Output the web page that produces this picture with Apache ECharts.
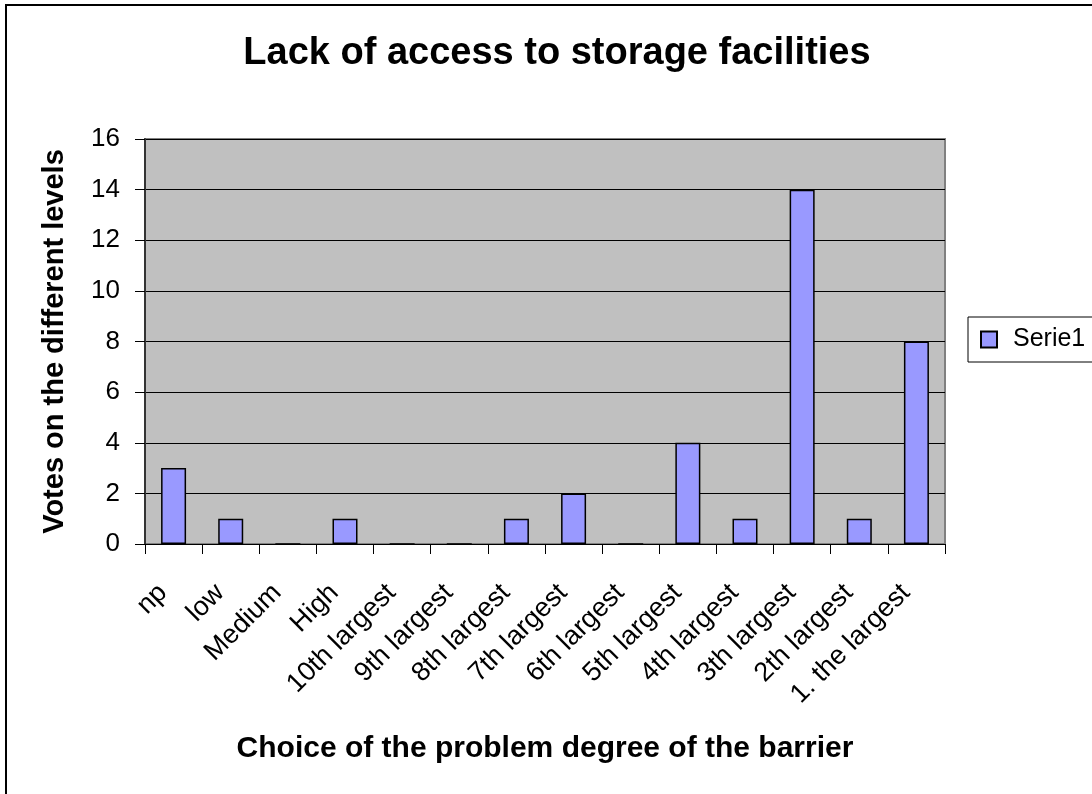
<!DOCTYPE html>
<html>
<head>
<meta charset="utf-8">
<script src="https://cdn.jsdelivr.net/npm/echarts@6/dist/echarts.min.js"></script>
<style>html,body{margin:0;padding:0;background:#fff;}#c{width:1092px;height:794px;}</style>
</head>
<body>
<div id="c"></div>
<script>
var categories = ['np','low','Medium','High','10th largest','9th largest','8th largest','7th largest','6th largest','5th largest','4th largest','3th largest','2th largest','1. the largest'];
var serie1 = [3,1,0,1,0,0,1,2,0,4,1,14,1,8];
var yTicks = {min:0, max:16, interval:2};

var chart = echarts.init(document.getElementById('c'), null, {renderer:'canvas'});
var F = 'Arial, "Liberation Sans", sans-serif';
chart.setOption({
  animation: false,
  backgroundColor: '#fff',
  title: {
    text: 'Lack of access to storage facilities',
    left: 552, top: 30, textAlign: 'center',
    textStyle: {fontFamily: F, fontSize: 38, fontWeight: 'bold', color: '#000'}
  },
  graphic: [{
    type: 'rect', shape: {x: 6, y: 5, width: 1100, height: 810},
    style: {fill: 'none', stroke: '#000', lineWidth: 2}, silent: true
  }],
  legend: {
    left: 968, top: 317, orient: 'vertical',
    itemWidth: 16, itemHeight: 16, itemGap: 5,
    padding: [10, 30, 10, 12],
    borderColor: '#000', borderWidth: 1, backgroundColor: '#fff',
    icon: 'rect',
    textStyle: {fontFamily: F, fontSize: 25, color: '#000', padding: [0, 0, 0, 11]}
  },
  grid: {
    left: 145, right: 147, top: 139, bottom: 250,
    show: true, backgroundColor: '#C0C0C0', borderColor: '#808080', borderWidth: 2
  },
  xAxis: {
    type: 'category', data: categories,
    name: 'Choice of the problem degree of the barrier',
    nameLocation: 'middle', nameGap: 190,
    nameTextStyle: {fontFamily: F, fontSize: 30, fontWeight: 'bold', color: '#000'},
    axisLine: {lineStyle: {color: '#000', width: 1}},
    axisTick: {show: true, interval: 0, length: 10, alignWithLabel: false, lineStyle: {color: '#000'}},
    axisLabel: {interval: 0, rotate: 45, margin: 34, padding: [0, 15, 0, 0], fontFamily: F, fontSize: 27, color: '#000'}
  },
  yAxis: {
    type: 'value', min: yTicks.min, max: yTicks.max, interval: yTicks.interval,
    name: 'Votes on the different levels',
    nameLocation: 'middle', nameGap: 76, nameRotate: 90,
    nameTextStyle: {fontFamily: F, fontSize: 29, fontWeight: 'bold', color: '#000'},
    axisLine: {show: true, lineStyle: {color: '#333', width: 2}},
    axisTick: {show: true, length: 10, lineStyle: {color: '#000'}},
    axisLabel: {margin: 25, fontFamily: F, fontSize: 26, color: '#000'},
    splitLine: {show: true, lineStyle: {color: '#000', width: 1}}
  },
  series: [{
    name: 'Serie1', type: 'bar', data: serie1, barWidth: 25,
    itemStyle: {color: '#9999FF', borderColor: '#000', borderWidth: 1.5}
  }]
});
</script>
</body>
</html>
